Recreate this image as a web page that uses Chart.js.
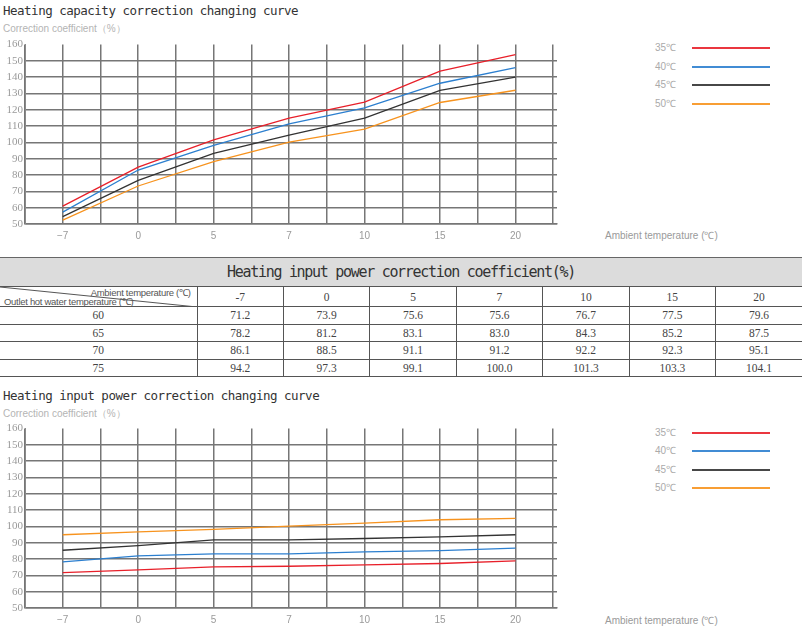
<!DOCTYPE html>
<html>
<head>
<meta charset="utf-8">
<script src="https://cdn.jsdelivr.net/npm/chart.js@4.4.0/dist/chart.umd.min.js"></script>
<style>
body{margin:0;width:806px;height:641px;background:#fff;position:relative;overflow:hidden;font-family:'Liberation Sans',Arial,sans-serif}
.title{position:absolute;left:3px;font-family:'DejaVu Sans Mono',monospace;font-size:12.5px;letter-spacing:-0.5px;color:#333;white-space:nowrap}
.sub{position:absolute;left:3px;font-size:10px;color:#b4b4b4;white-space:nowrap}
canvas{position:absolute;left:0}
.xtitle{position:absolute;left:605px;font-size:10px;color:#9a9a9a;white-space:nowrap}
.lg-text{position:absolute;left:620px;width:56px;text-align:right;font-size:10px;color:#aaa;line-height:12px}
.lg-line{position:absolute;left:692px;width:78px;height:2px;opacity:0.9}
#tbl{position:absolute;left:0;top:257px;width:802px;border-collapse:collapse;table-layout:fixed;border-top:1.5px solid #666}
#tbl td{border-bottom:1px solid #555;border-left:1px solid #555;text-align:center;padding:0;font-family:'Liberation Serif',serif;font-size:11.5px;color:#444}
#tbl td:first-child{border-left:none}
#tbl .head td{background:#dcdcdc;height:28px;font-family:'DejaVu Sans Mono',monospace;font-size:15px;letter-spacing:-1.3px;color:#333}
#tbl .cols td{height:19px}
#tbl .row td{height:16.5px}
.diag{position:relative;height:19px}
.diag svg{position:absolute;left:0;top:0}
.diag span{position:absolute;font-family:'Liberation Sans Narrow','Liberation Sans',sans-serif;font-size:9.5px;color:#555;white-space:nowrap;letter-spacing:-0.3px}
</style>
</head>
<body>
<div class="title" style="top:3px">Heating capacity correction changing curve</div>
<div class="sub" style="top:22px">Correction coefficient（%）</div>
<canvas id="capChart" width="560" height="212" style="top:36px"></canvas>
<div id="capLegend"></div>
<div class="xtitle" style="top:228px">Ambient temperature (℃)</div>

<table id="tbl"></table>

<div class="title" style="top:388px">Heating input power correction changing curve</div>
<div class="sub" style="top:407px">Correction coefficient（%）</div>
<canvas id="powChart" width="560" height="212" style="top:420px"></canvas>
<div id="powLegend"></div>
<div class="xtitle" style="top:613px">Ambient temperature (℃)</div>

<script>
const tempLabels = ['−7', '0', '5', '7', '10', '15', '20'];
const seriesNames = ['35℃', '40℃', '45℃', '50℃'];
const seriesColors = ['#e8202a', '#2c7fcf', '#333333', '#f7931e'];

// heating capacity curve
const capacity35 = [61.0, 84.9, 101.6, 114.9, 124.7, 143.7, 153.9];
const capacity40 = [57.3, 83.1, 98.2, 111.4, 121.2, 136.3, 145.9];
const capacity45 = [54.5, 76.7, 93.3, 104.5, 114.9, 132.0, 140.0];
const capacity50 = [52.4, 73.3, 88.2, 100.2, 108.2, 124.5, 132.0];

// heating input power curve
const power35 = [71.7, 73.4, 75.2, 75.6, 76.4, 77.3, 78.9];
const power40 = [78.3, 82.0, 83.2, 83.2, 84.4, 85.2, 86.7];
const power45 = [85.4, 88.3, 91.8, 91.8, 92.6, 93.6, 94.9];
const power50 = [94.9, 96.7, 98.2, 100.2, 102.0, 104.1, 104.9];

// table
const tableTitle = 'Heating input power correction coefficient(%)';
const tableTemps = ['-7', '0', '5', '7', '10', '15', '20'];
const outletTemps = ['60', '65', '70', '75'];
const input60 = [71.2, 73.9, 75.6, 75.6, 76.7, 77.5, 79.6];
const input65 = [78.2, 81.2, 83.1, 83.0, 84.3, 85.2, 87.5];
const input70 = [86.1, 88.5, 91.1, 91.2, 92.2, 92.3, 95.1];
const input75 = [94.2, 97.3, 99.1, 100.0, 101.3, 103.3, 104.1];

const gridColor = '#767676';

function makeChart(canvasId, series) {
    return new Chart(document.getElementById(canvasId), {
        type: 'line',
        data: {
            datasets: series.map((vals, k) => ({
                label: seriesNames[k],
                data: vals.map((v, i) => ({x: i, y: v})),
                borderColor: seriesColors[k],
                borderWidth: 1.3,
                pointRadius: 0,
                tension: 0,
                fill: false
            }))
        },
        options: {
            responsive: false,
            animation: false,
            events: [],
            layout: {padding: {top: 8, right: 3, left: 0, bottom: 0}},
            plugins: {legend: {display: false}, tooltip: {enabled: false}},
            scales: {
                x: {
                    type: 'linear',
                    min: -0.5,
                    max: 6.55,
                    afterBuildTicks: s => {
                        s.ticks = [];
                        for (let v = -0.5; v <= 6.5; v += 0.5) s.ticks.push({value: v});
                    },
                    afterFit: s => { s.height = 24; },
                    grid: {color: gridColor, lineWidth: 1.5, drawTicks: false},
                    border: {color: gridColor, width: 1.5},
                    ticks: {
                        autoSkip: false,
                        maxRotation: 0,
                        padding: 6,
                        color: '#9a9a9a',
                        font: {family: 'Liberation Sans', size: 10},
                        callback: v => Number.isInteger(v) ? tempLabels[v] : ''
                    }
                },
                y: {
                    min: 50,
                    max: 160,
                    afterFit: s => { s.width = 25; },
                    grid: {
                        color: c => c.tick.value === 160 ? 'rgba(0,0,0,0)' : gridColor,
                        lineWidth: 1.5,
                        drawTicks: false
                    },
                    border: {color: '#8a8a8a', width: 1},
                    ticks: {
                        stepSize: 10,
                        padding: 2,
                        color: '#9a9a9a',
                        font: {family: 'Liberation Serif', size: 11}
                    }
                }
            }
        }
    });
}

function drawLegend(chart, boxId, firstY) {
    const box = document.getElementById(boxId);
    chart.data.datasets.forEach((ds, i) => {
        const y = Math.round(firstY + i * 18.5);
        const t = document.createElement('div');
        t.className = 'lg-text';
        t.style.top = (y - 6) + 'px';
        t.textContent = ds.label;
        const l = document.createElement('div');
        l.className = 'lg-line';
        l.style.top = (y - 1) + 'px';
        l.style.background = ds.borderColor;
        box.appendChild(t);
        box.appendChild(l);
    });
}

const capChart = makeChart('capChart', [capacity35, capacity40, capacity45, capacity50]);
drawLegend(capChart, 'capLegend', 48.3);

const powChart = makeChart('powChart', [power35, power40, power45, power50]);
drawLegend(powChart, 'powLegend', 432.7);

// table
const tbl = document.getElementById('tbl');
let html = '<colgroup><col style="width:197px">' + tableTemps.map(() => '<col>').join('') + '</colgroup>';
html += '<tr class="head"><td colspan="8">' + tableTitle + '</td></tr>';
html += '<tr class="cols"><td><div class="diag">' +
    '<svg width="197" height="20"><line x1="0" y1="0" x2="197" y2="20" stroke="#555" stroke-width="1"/></svg>' +
    '<span style="right:6px;top:-1px">Ambient temperature (℃)</span>' +
    '<span style="left:4px;top:8px">Outlet hot water temperature (℃)</span></div></td>' +
    tableTemps.map(t => '<td>' + t + '</td>').join('') + '</tr>';
[input60, input65, input70, input75].forEach((row, r) => {
    html += '<tr class="row"><td>' + outletTemps[r] + '</td>' +
        row.map(v => '<td>' + v.toFixed(1) + '</td>').join('') + '</tr>';
});
tbl.innerHTML = html;
</script>
</body>
</html>
